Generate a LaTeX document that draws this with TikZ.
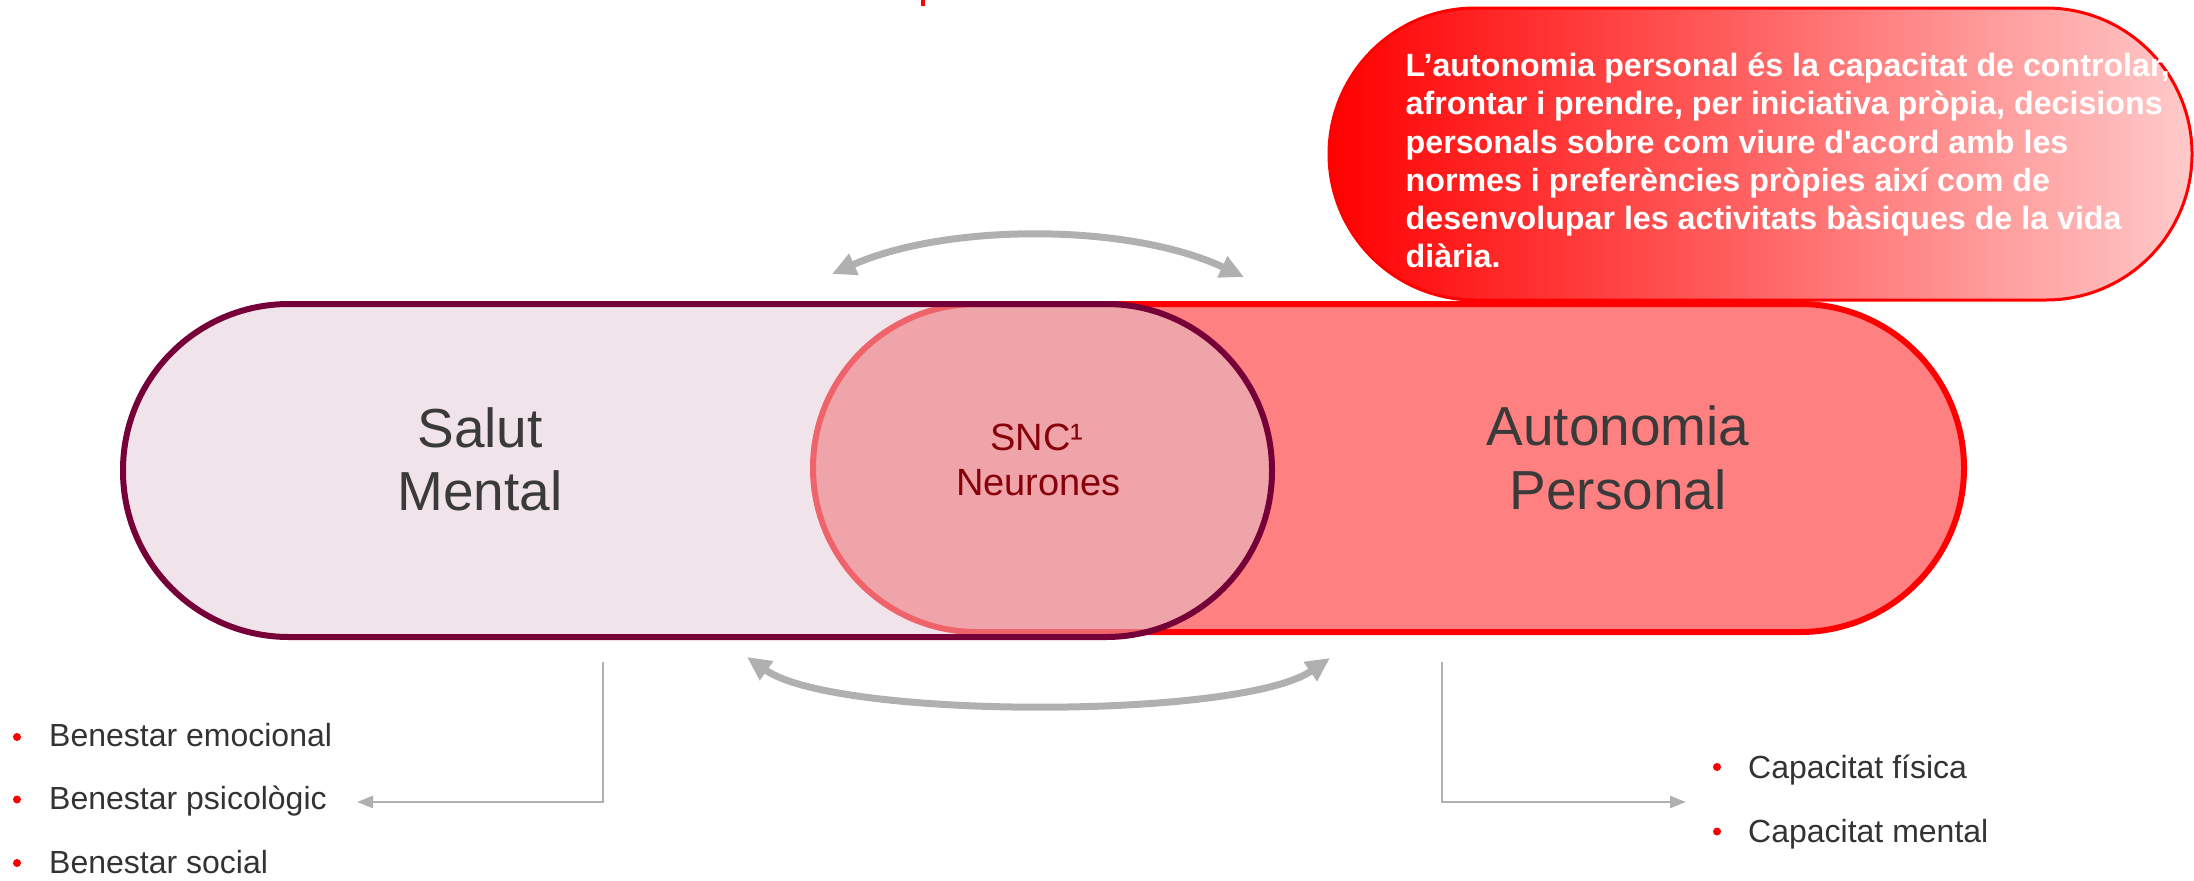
\documentclass[tikz,border=0pt]{standalone}
\usepackage{fontspec}
\setmainfont{Liberation Sans}
\usetikzlibrary{arrows.meta}
\definecolor{purp}{RGB}{118,0,56}
\definecolor{lfill}{RGB}{225,201,213}
\definecolor{salmon}{RGB}{255,128,128}
\definecolor{redline}{RGB}{255,0,0}
\definecolor{arrowgray}{RGB}{176,176,176}
\definecolor{txtgray}{RGB}{58,58,58}
\definecolor{itemgray}{RGB}{51,51,51}
\definecolor{snc}{RGB}{135,0,10}
\definecolor{calloutright}{RGB}{255,202,202}
\begin{document}
\begin{tikzpicture}[x=1bp,y=-1bp,
  bigtext/.style={font=\fontsize{55bp}{63bp}\selectfont, text=txtgray, inner sep=0pt, anchor=base},
  snctext/.style={font=\fontsize{38bp}{44.5bp}\selectfont, text=snc, inner sep=0pt, anchor=base},
  itemtext/.style={font=\fontsize{32bp}{38bp}\selectfont, text=itemgray, inner sep=0pt, anchor=base west},
  bulletdot/.style={fill=redline, circle, inner sep=0pt, minimum size=8bp},
  curvearrow/.style={draw=arrowgray, line width=7bp, {Triangle[length=24bp,width=22bp]}-{Triangle[length=24bp,width=22bp]}},
  elbow/.style={draw=arrowgray, line width=2.5bp, -{Triangle[length=16bp,width=12bp]}},
]
\useasboundingbox (0,0) rectangle (2194,880);
% small red mark at top
\fill[redline] (921,0) rectangle (925,6);
% right capsule
\draw[fill=salmon, draw=redline, line width=6bp, rounded corners=164bp] (813,304) rectangle (1964,632);
% left capsule
\path[fill=lfill, fill opacity=0.5, draw=purp, line width=6bp, rounded corners=166bp] (123,304) rectangle (1272,637);
% callout
\draw[line width=3bp, draw=redline, left color=redline, right color=calloutright, rounded corners=146bp] (1329,8) rectangle (2192,300);
\node[anchor=base west, align=left, font=\bfseries\fontsize{32.2bp}{38.2bp}\selectfont, text=white, inner sep=0pt] (def) at (1405.5,267.7)
 {L’autonomia personal és la capacitat de controlar,\\
  afrontar i prendre, per iniciativa pròpia, decisions\\
  personals sobre com viure d\textquotesingle acord amb les\\
  normes i preferències pròpies així com de\\
  desenvolupar les activitats bàsiques de la vida\\
  diària.};
% main texts
\node[bigtext] (salut) at (480,447) {Salut};
\node[bigtext] (mental) at (480,510) {Mental};
\node[bigtext] (auto) at (1618,445) {Autonomia};
\node[bigtext] (pers) at (1618,509) {Personal};
\node[snctext] (snc) at (1037,450.5) {SNC¹};
\node[snctext] (neur) at (1038.5,495) {Neurones};
% curved arrows
\coordinate (ta) at (832,274);
\coordinate (tb) at (1244,277);
\draw[curvearrow] (ta) .. controls (947,223) and (1129,223) .. (tb);
\coordinate (ba) at (747,657);
\coordinate (bb) at (1330,658);
\draw[curvearrow] (ba) .. controls (836,719.5) and (1241,719.5) .. (bb);
% bullet lists
\node[itemtext] (b1) at (49,746) {Benestar emocional};
\node[itemtext] (b2) at (49,809.3) {Benestar psicològic};
\node[itemtext] (b3) at (49,873) {Benestar social};
\node[bulletdot] (d1) at (17,737) {};
\node[bulletdot] (d2) at (17,799.5) {};
\node[bulletdot] (d3) at (17,863) {};
\node[itemtext] (c1) at (1748,778) {Capacitat física};
\node[itemtext] (c2) at (1748,842) {Capacitat mental};
\node[bulletdot] (e1) at (1717,767) {};
\node[bulletdot] (e2) at (1717,831.5) {};
% elbow connectors
\coordinate (lfrom) at (603,662);
\coordinate (lto) at (357,802);
\draw[elbow] (lfrom) |- (lto);
\coordinate (rfrom) at (1442,662);
\coordinate (rto) at (1686,802);
\draw[elbow] (rfrom) |- (rto);
\end{tikzpicture}
\end{document}
